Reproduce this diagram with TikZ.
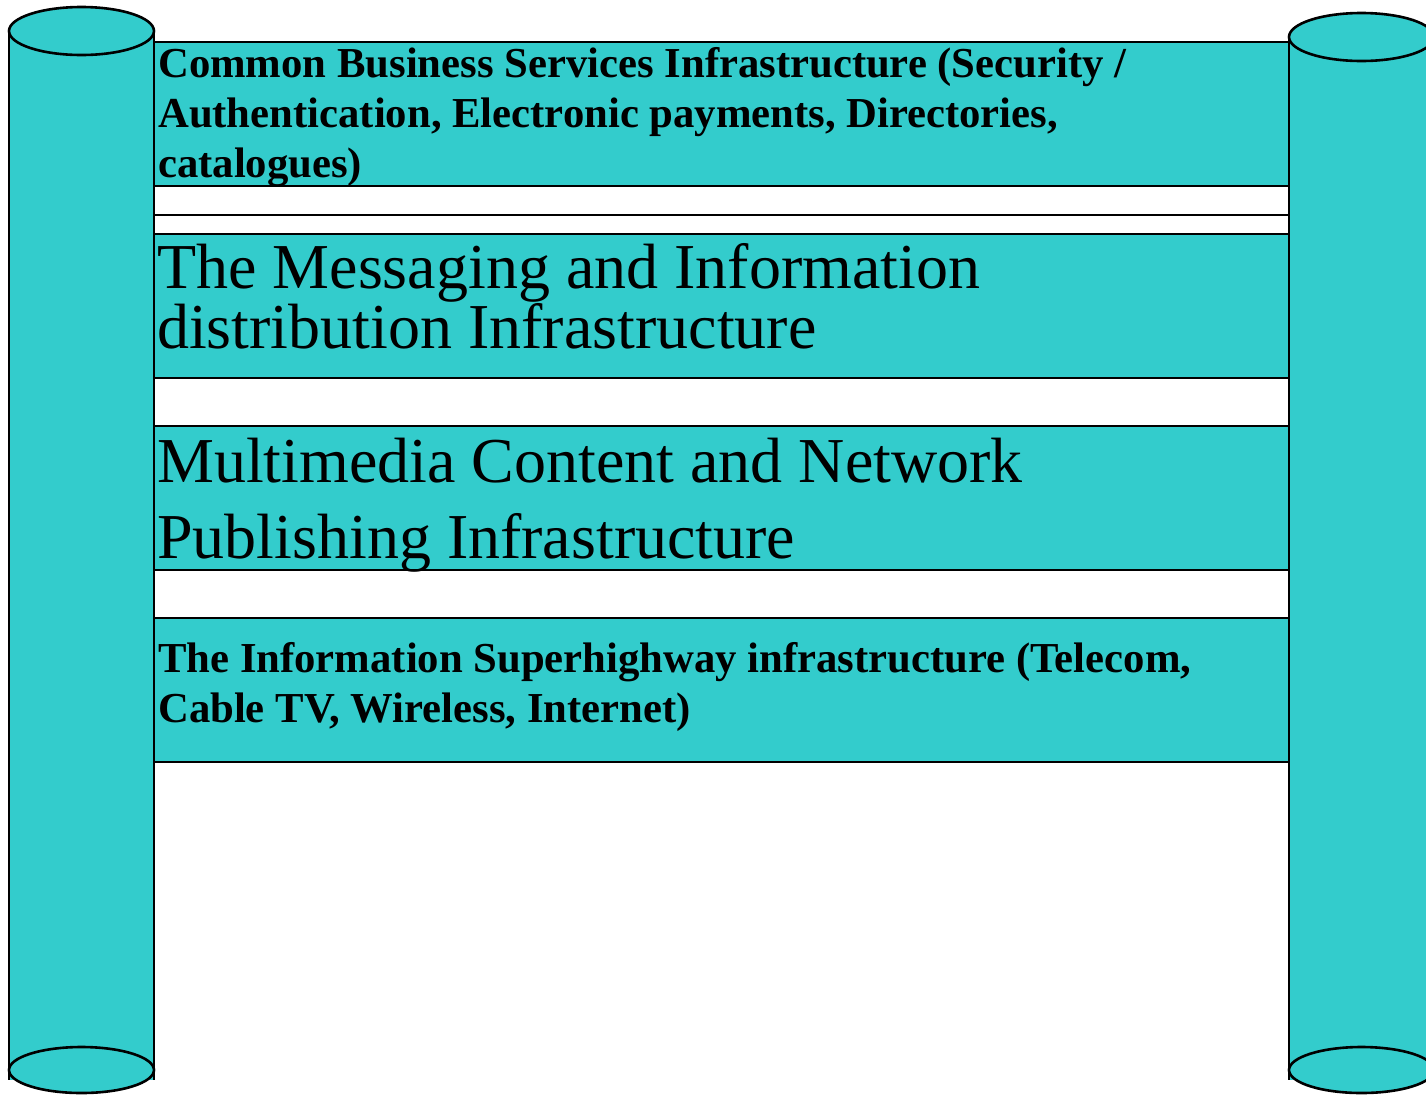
\documentclass[tikz,border=0pt]{standalone}
\usepackage{fontspec}
\setmainfont{Liberation Serif}
\usetikzlibrary{positioning}
\definecolor{pillarteal}{RGB}{51,204,204}

\tikzset{
    band/.style={draw, line width=2.4bp, fill=pillarteal, minimum width=1135bp, inner sep=0pt, outer sep=0pt},
    gapband/.style={draw, line width=2.4bp, fill=white, minimum width=1135bp, inner sep=0pt, outer sep=0pt},
    smalltext/.style={align=left, inner sep=0pt, anchor=base west, font=\bfseries\fontsize{42.7bp}{50bp}\selectfont},
    bigtext/.style={align=left, inner sep=0pt, anchor=base west},
    pillar/.style={draw, line width=2.6bp, fill=pillarteal}
}

\begin{document}
\begin{tikzpicture}[x=1bp, y=-1bp]
    \useasboundingbox (0,0) rectangle (1426,1094);

    % Layers
    \node[band, minimum height=144bp] (common) at (721.5,114) {};
    \node[gapband, minimum height=29bp] (gapa) at (721.5,200.5) {};
    \node[gapband, minimum height=19bp] (gapb) at (721.5,224.5) {};
    \node[band, minimum height=144bp] (messaging) at (721.5,306) {};
    \node[gapband, minimum height=48bp] (gapc) at (721.5,402) {};
    \node[band, minimum height=144bp] (multimedia) at (721.5,498) {};
    \node[gapband, minimum height=48bp] (gapd) at (721.5,594) {};
    \node[band, minimum height=144bp] (highway) at (721.5,690) {};

    % Layer texts (base = last line)
    \node[smalltext] (commontext) at ([xshift=4bp, yshift=-135bp]common.north west)
        {Common Business Services Infrastructure (Security /\\Authentication, Electronic payments, Directories,\\catalogues)};
    \node[bigtext, font=\fontsize{64bp}{60bp}\selectfont] (messagingtext) at ([xshift=3bp, yshift=-114bp]messaging.north west)
        {The Messaging and Information\\distribution Infrastructure};
    \node[bigtext, font=\fontsize{64bp}{76bp}\selectfont] (multimediatext) at ([xshift=3bp, yshift=-132bp]multimedia.north west)
        {Multimedia Content and Network\\Publishing Infrastructure};
    \node[smalltext] (highwaytext) at ([xshift=4bp, yshift=-104bp]highway.north west)
        {The Information Superhighway infrastructure (Telecom,\\Cable TV, Wireless, Internet)};

    % Pillars
    \foreach \name/\x/\top in {left/81.5/31, right/1361.5/37} {
        \fill[pillarteal] (\x-72.5,\top) rectangle (\x+72.5,1080);
        \draw[line width=2.4bp] (\x-72.5,\top) -- (\x-72.5,1080) (\x+72.5,\top) -- (\x+72.5,1080);
        \draw[pillar] (\x,1070) ellipse [x radius=72.5, y radius=23];
        \draw[pillar] (\x,\top) ellipse [x radius=72.5, y radius=24];
    }

\end{tikzpicture}
\end{document}
